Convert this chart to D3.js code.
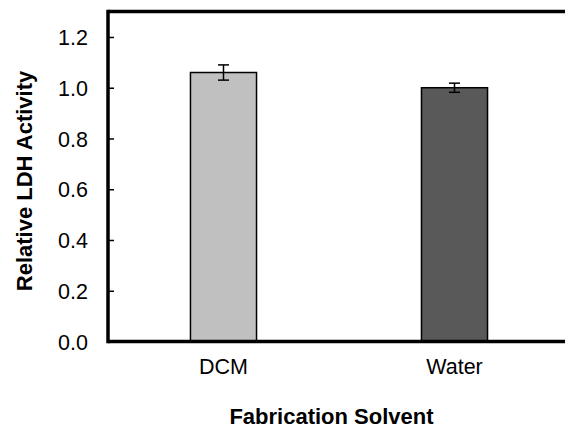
<!DOCTYPE html>
<html>
<head>
<meta charset="utf-8">
<script src="https://cdnjs.cloudflare.com/ajax/libs/d3/7.8.5/d3.min.js"></script>
<style>
  html, body { margin: 0; padding: 0; background: #fff; }
  svg { display: block; }
  text { font-family: "Liberation Sans", Arial, sans-serif; fill: #000; }
</style>
</head>
<body>
<svg id="chart" width="565" height="430"></svg>
<script>
const categories = ["DCM", "Water"];
const values = [1.06, 1.00];
const errors = [0.03, 0.018];
const barColors = ["#c0c0c0", "#595959"];
const yTicks = [0.0, 0.2, 0.4, 0.6, 0.8, 1.0, 1.2];
const xTitle = "Fabrication Solvent";
const yTitle = "Relative LDH Activity";

(function () {
const svg = d3.select("#chart");
const mLeft = 108, mRight = 570, mTop = 11.6, mBottom = 341.5;

const x = d3.scaleBand().domain(categories).range([mLeft, mRight]).paddingInner(0.714).paddingOuter(0.357);
const y = d3.scaleLinear().domain([0, 1.3]).range([mBottom, mTop]);

// Bars
svg.selectAll("rect.bar").data(categories).enter().append("rect")
  .attr("class", "bar")
  .attr("x", d => x(d))
  .attr("width", x.bandwidth())
  .attr("y", (d, i) => y(values[i]))
  .attr("height", (d, i) => y(0) - y(values[i]))
  .attr("fill", (d, i) => barColors[i])
  .attr("stroke", "#000")
  .attr("stroke-width", 1.5);

// Error bars
const eb = svg.selectAll("g.err").data(categories).enter().append("g").attr("class", "err");
eb.append("line")
  .attr("x1", d => x(d) + x.bandwidth() / 2).attr("x2", d => x(d) + x.bandwidth() / 2)
  .attr("y1", (d, i) => y(values[i] + errors[i])).attr("y2", (d, i) => y(values[i] - errors[i]))
  .attr("stroke", "#000").attr("stroke-width", 1.5);
[1, -1].forEach(s => {
  eb.append("line")
    .attr("x1", d => x(d) + x.bandwidth() / 2 - 5.5).attr("x2", d => x(d) + x.bandwidth() / 2 + 5.5)
    .attr("y1", (d, i) => y(values[i] + s * errors[i])).attr("y2", (d, i) => y(values[i] + s * errors[i]))
    .attr("stroke", "#000").attr("stroke-width", 1.5);
});

// Y axis
const yAxis = d3.axisLeft(y).tickValues(yTicks).tickFormat(d3.format(".1f")).tickSizeInner(-6).tickSizeOuter(0).tickPadding(20);
const gy = svg.append("g").attr("transform", `translate(${mLeft},0)`).call(yAxis);
gy.select(".domain").remove();
gy.selectAll(".tick line").attr("stroke", "#000").attr("stroke-width", 1.5);
gy.selectAll(".tick text").style("font-size", "21.5px").attr("dy", "0.35em");

// X axis
const xAxis = d3.axisBottom(x).tickSize(0).tickPadding(17);
const gx = svg.append("g").attr("transform", `translate(0,${mBottom})`).call(xAxis);
gx.select(".domain").remove();
gx.selectAll(".tick text").style("font-size", "21.5px").attr("dy", "0.71em");

// Frame lines
svg.append("line").attr("x1", mLeft).attr("x2", 570).attr("y1", mBottom).attr("y2", mBottom)
  .attr("stroke", "#000").attr("stroke-width", 3.5);
svg.append("line").attr("x1", mLeft).attr("x2", 570).attr("y1", mTop).attr("y2", mTop)
  .attr("stroke", "#000").attr("stroke-width", 3.5);
svg.append("line").attr("x1", mLeft).attr("x2", mLeft).attr("y1", mTop - 1.75).attr("y2", mBottom + 1.75)
  .attr("stroke", "#000").attr("stroke-width", 3.5);

// Titles
svg.append("text").attr("x", 331.5).attr("y", 424).attr("text-anchor", "middle")
  .style("font-size", "22px").style("font-weight", "bold").text(xTitle);
svg.append("text").attr("transform", "translate(32,181) rotate(-90)").attr("text-anchor", "middle")
  .style("font-size", "22px").style("font-weight", "bold").text(yTitle);
})();
</script>
</body>
</html>
